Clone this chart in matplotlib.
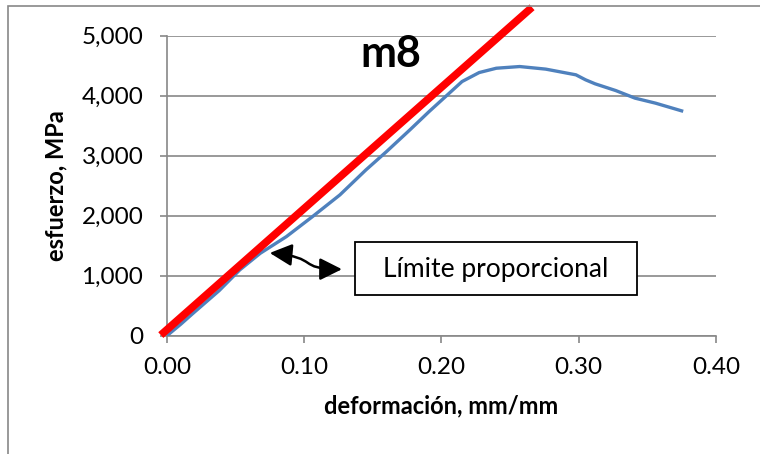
import matplotlib
matplotlib.use("Agg")
import matplotlib.pyplot as plt
from matplotlib.patches import Rectangle, FancyArrowPatch
from matplotlib.path import Path
from matplotlib.ticker import FuncFormatter

strain = [0.0, 0.010, 0.019, 0.038, 0.053, 0.068, 0.087, 0.106, 0.126, 0.145, 0.160,
          0.177, 0.191, 0.203, 0.215, 0.2275, 0.240, 0.257, 0.276, 0.298, 0.305,
          0.312, 0.327, 0.341, 0.356, 0.375]
stress = [0, 190, 373, 750, 1095, 1373, 1650, 1983, 2345, 2762, 3067,
          3428, 3733, 3983, 4233, 4383, 4455, 4483, 4440, 4345, 4262,
          4195, 4083, 3957, 3873, 3745]
fit_x = [-0.0045, 0.266]
fit_y = [10, 5470]
xticks = [0.0, 0.1, 0.2, 0.3, 0.4]
yticks = [0, 1000, 2000, 3000, 4000, 5000]

plt.rcParams['font.family'] = ['Lato', 'DejaVu Sans']

fig = plt.figure(figsize=(7.6, 4.54), dpi=100)
ax = fig.add_axes([0.2197, 0.2606, 0.7223, 0.6612])
fig.patches.append(Rectangle((8/760, -0.1), 1.2, 1 - 6/454 + 0.1, transform=fig.transFigure,
                             fill=False, edgecolor='#888888', linewidth=1.2))

ax.plot(strain, stress, color='#4F81BD', linewidth=2.4, zorder=3)
ax.plot(fit_x, fit_y, color='#FF0000', linewidth=5.5, clip_on=False, zorder=4,
        solid_capstyle='butt')

ax.set_xlim(0, 0.4)
ax.set_ylim(0, 5000)
ax.set_xticks(xticks)
ax.set_yticks(yticks)
ax.xaxis.set_major_formatter(FuncFormatter(lambda v, p: f"{v:.2f}"))
ax.yaxis.set_major_formatter(FuncFormatter(lambda v, p: f"{int(v):,}"))
ax.grid(axis='y', color='#888888', linewidth=1.2)
ax.set_axisbelow(True)
for s in ['top', 'right']:
    ax.spines[s].set_visible(False)
for s in ['left', 'bottom']:
    ax.spines[s].set_color('#888888')
    ax.spines[s].set_linewidth(1.2)
ax.tick_params(axis='both', colors='#888888', length=5, width=1.2, labelcolor='black', labelsize=17.5)
ax.tick_params(axis='x', pad=10)
ax.tick_params(axis='y', pad=12)

ax.set_xlabel('deformación, mm/mm', fontsize=17, fontweight='bold', labelpad=12)
ax.set_ylabel('esfuerzo, MPa', fontsize=17, fontweight='bold', labelpad=10)

ax.text(0.163, 4700, 'm8', fontsize=31, fontweight='bold', ha='center', va='center')

ax.add_patch(Rectangle((0.137, 682), 0.2054, 882, facecolor='white', edgecolor='black',
                       linewidth=1.3, zorder=5))
ax.text(0.2397, 1110, 'Límite proporcional', fontsize=19, ha='center', va='center', zorder=6)

verts = [(0.0749, 1378), (0.112, 1300), (0.094, 1110), (0.1275, 1107)]
codes = [Path.MOVETO, Path.CURVE4, Path.CURVE4, Path.CURVE4]
arrow = FancyArrowPatch(path=Path(verts, codes), arrowstyle='<|-|>,head_length=0.9,head_width=0.45',
                        color='black', linewidth=1.8, mutation_scale=15, zorder=6)
ax.add_patch(arrow)

fig.savefig('out.png', dpi=100)
